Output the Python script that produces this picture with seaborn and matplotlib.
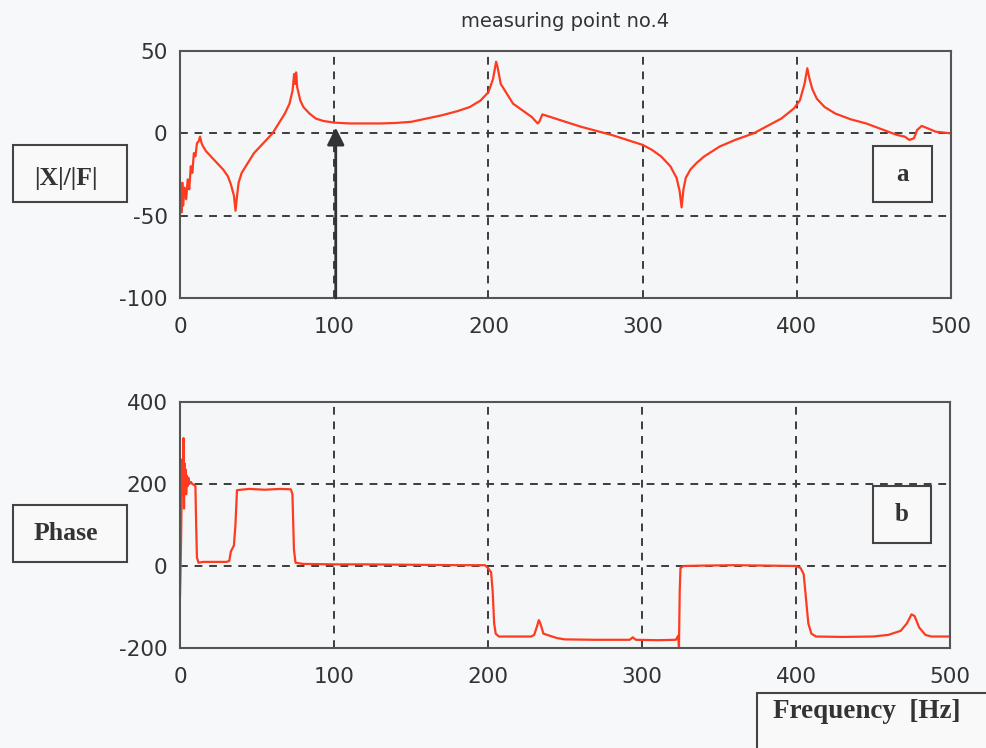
import numpy as np
import pandas as pd
import matplotlib
matplotlib.use("Agg")
import matplotlib.pyplot as plt
from matplotlib.patches import Rectangle
import seaborn as sns

# Frequency response at measuring point no.4
mag_freq = [0, 1, 1.5, 2, 3, 4, 5, 6, 7, 8, 9, 10, 11, 12, 13, 14, 15, 17, 20,
            24, 28, 31, 33, 35, 36, 37, 38, 40, 44, 48, 52, 56, 60, 64, 68, 71,
            73, 74, 74.7, 75.3, 76, 78, 80, 84, 88, 93, 100, 110, 120, 130, 140,
            150, 160, 170, 180, 188, 195, 200, 203, 205, 206, 208, 212, 216, 222,
            228, 232, 233, 235, 240, 250, 260, 270, 280, 290, 300, 306, 312, 318,
            322, 324, 325.3, 326.5, 328, 331, 335, 340, 350, 360, 372, 380, 390,
            398, 402, 405, 406.8, 408, 410, 413, 418, 425, 435, 445, 455, 465,
            470, 473, 476, 478, 481, 485, 490, 495, 500]
mag_db = [-35, -48, -30, -44, -33, -40, -28, -34, -20, -24, -12, -14, -6, -5, -2,
          -6, -8, -11, -14, -18, -22, -26, -31, -38, -47, -38, -30, -24, -18, -12,
          -8, -4, 0, 6, 12, 18, 26, 36, 30, 37, 28, 20, 16, 12, 9, 7.5, 6.5, 6,
          6, 6, 6.3, 7, 9, 11, 13.5, 16, 20, 25, 33, 43.5, 40, 30, 24, 18, 14, 10,
          6, 7, 11.5, 10, 7, 4, 1.5, -1, -4, -7, -10, -14, -20, -27, -35, -45,
          -34, -27, -22, -18, -14, -8, -4, 0, 4, 9, 15, 20, 30, 39.5, 34, 27, 21,
          16, 12, 8.5, 6, 2.5, -1, -2, -4, -3, 2, 4.5, 3, 1, 0.5, 0]

phase_freq = [0, 0.3, 0.6, 1, 1.3, 1.6, 2, 2.3, 2.6, 3, 3.3, 3.7, 4, 4.5, 5, 5.5,
              6, 7, 8, 9, 10, 10.5, 11, 11.5, 12, 15, 20, 25, 30, 32, 33, 35, 36,
              37, 45, 55, 65, 72, 73, 74, 75, 80, 100, 120, 150, 180, 198, 200,
              202, 203, 204, 205, 207, 220, 228, 230, 232, 233, 234, 236, 240,
              245, 250, 270, 292, 294, 296, 310, 322, 323.5, 324, 324.5, 325, 327,
              340, 360, 380, 400, 403, 405, 407, 408, 410, 413, 430, 450, 460, 468,
              472, 475, 477, 480, 484, 488, 500]
phase_deg = [-75, -20, 40, 150, 260, 180, 230, 312, 140, 250, 200, 235, 175, 220,
             195, 215, 200, 205, 200, 198, 195, 100, 20, 15, 8, 10, 10, 10, 10, 12,
             35, 50, 100, 185, 188, 186, 188, 187, 175, 40, 8, 5, 4, 4, 3, 2, 2, -5,
             -15, -60, -140, -165, -172, -172, -172, -168, -145, -132, -140, -165,
             -170, -176, -179, -180, -180, -174, -180, -181, -180, -170, -197, -60,
             -5, 0, 1, 2, 1, 0, -5, -20, -100, -140, -165, -172, -173, -172, -168,
             -158, -140, -118, -122, -150, -168, -172, -172]

x_ticks = [0, 100, 200, 300, 400, 500]
mag_ticks = [-100, -50, 0, 50]
phase_ticks = [-200, 0, 200, 400]

mag_df = pd.DataFrame({"Frequency": mag_freq, "Magnitude": mag_db})
phase_df = pd.DataFrame({"Frequency": phase_freq, "Phase": phase_deg})

sns.set_theme(style="white")
plt.rcParams["font.family"] = ["DejaVu Sans"]
plt.rcParams["axes.unicode_minus"] = False

W, H = 986, 748
fig = plt.figure(figsize=(W / 100, H / 100), dpi=100, facecolor="#f7f8f9")

def fx(px):
    return px / W

def fy(py):
    return 1 - py / H

ax1 = fig.add_axes([fx(180), fy(298), fx(771), 247 / H])
ax2 = fig.add_axes([fx(180), fy(648), fx(770), 246 / H])

line_color = "#ff3b1f"
sns.lineplot(data=mag_df, x="Frequency", y="Magnitude", ax=ax1,
             color=line_color, linewidth=1.6, sort=False)
sns.lineplot(data=phase_df, x="Frequency", y="Phase", ax=ax2,
             color=line_color, linewidth=1.6, sort=False)

for ax, yt in ((ax1, mag_ticks), (ax2, phase_ticks)):
    ax.set_facecolor("#f5f6f8")
    ax.set_xlim(0, 500)
    ax.set_ylim(yt[0], yt[-1])
    ax.set_xticks(x_ticks)
    ax.set_yticks(yt)
    ax.set_xlabel("")
    ax.set_ylabel("")
    ax.grid(True, linestyle=(0, (4, 3.5)), color="#3c3c3c", linewidth=1.4)
    for sp in ax.spines.values():
        sp.set_color("#555555")
        sp.set_linewidth(1.5)
    ax.tick_params(axis="both", direction="in", length=0, labelsize=15.5,
                   labelcolor="#333333")
    ax.tick_params(axis="x", pad=14)
    ax.tick_params(axis="y", pad=9)

ax1.set_title("measuring point no.4", fontsize=14, color="#333333", pad=17)

# Arrow marking the 100 Hz frequency
ax1.annotate("", xy=(101, 3.5), xytext=(101, -100),
             arrowprops=dict(arrowstyle="-|>", color="#333333", lw=2,
                             mutation_scale=26, shrinkA=0, shrinkB=0))

def label_box(x0, y0, x1, y1, text, tx, ty, size):
    fig.patches.append(Rectangle((fx(x0), fy(y1)), fx(x1 - x0), (y1 - y0) / H,
                                 transform=fig.transFigure, fill=True,
                                 facecolor="#f9f9f9", edgecolor="#444444",
                                 linewidth=1.5, zorder=5))
    fig.text(fx(tx), fy(ty), text, ha="center", va="baseline",
             family="Liberation Serif", fontweight="bold", fontsize=size,
             color="#333333", zorder=6)

label_box(13, 145, 127, 202, "|X|/|F|", 66, 185, 18.5)
label_box(13, 505, 127, 562, "Phase", 66, 540, 18.5)
label_box(873, 146, 932, 202, "a", 902.5, 181, 18)
label_box(873, 486, 931, 543, "b", 902, 521, 18)
label_box(757, 693, 1000, 760, "Frequency  [Hz]", 867, 718, 19.5)

fig.savefig("out.png", dpi=100, facecolor=fig.get_facecolor())
